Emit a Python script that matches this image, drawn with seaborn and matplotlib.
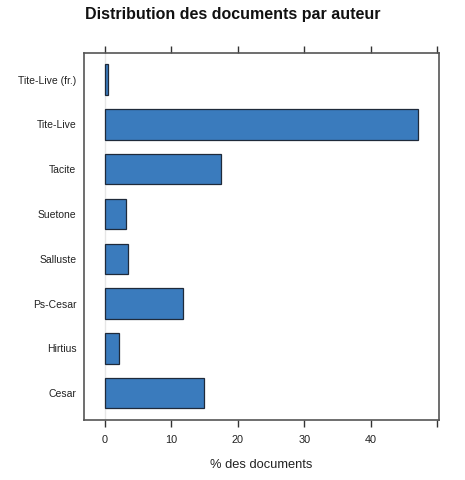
import matplotlib
matplotlib.use("Agg")
import matplotlib.pyplot as plt
import seaborn as sns
import pandas as pd

auteurs = ["Tite-Live (fr.)", "Tite-Live", "Tacite", "Suetone", "Salluste",
           "Ps-Cesar", "Hirtius", "Cesar"]
pourcentages = [0.5, 47.1, 17.5, 3.1, 3.4, 11.8, 2.1, 14.9]
x_ticks = [0, 10, 20, 30, 40, 50]
x_tick_labels = ["0", "10", "20", "30", "40", ""]

df = pd.DataFrame({"auteur": auteurs, "pct": pourcentages})

sns.set_theme(style="white")
plt.rcParams["font.family"] = ["Liberation Sans", "DejaVu Sans"]

fig = plt.figure(figsize=(4.65, 4.80), dpi=100)
ax = fig.add_axes([0.1796, 0.125, 0.944 - 0.1796, 0.890 - 0.125])

ax.axvline(0, color="#e6e6e6", lw=1, zorder=0)
sns.barplot(data=df, x="pct", y="auteur", order=auteurs, orient="h",
            color="#3a7bbd", saturation=1, width=0.68,
            edgecolor="#1f2a3a", linewidth=0.9, ax=ax, zorder=2)

ax.set_xlim(-3.24, 50.3)
ax.set_ylim(7.6, -0.6)
ax.set_xticks(x_ticks)
ax.set_xticklabels(x_tick_labels)
ax.tick_params(axis="x", which="both", top=True, bottom=True, labeltop=False,
               direction="out", length=5, width=1, color="#333333",
               labelsize=7.8, labelcolor="#222222", pad=6)
ax.tick_params(axis="y", left=False, right=False, length=0, labelsize=7.5,
               labelcolor="#222222", pad=5)
for s in ax.spines.values():
    s.set_visible(True)
    s.set_color("#555555")
    s.set_linewidth(1.2)

ax.set_ylabel("")
ax.set_xlabel("% des documents", fontsize=9.3, color="#222222", labelpad=10)
fig.suptitle("Distribution des documents par auteur", x=0.5, y=0.985,
             fontsize=11.5, fontweight="bold", color="#111111")

fig.savefig("out.png", dpi=100, facecolor="white")
